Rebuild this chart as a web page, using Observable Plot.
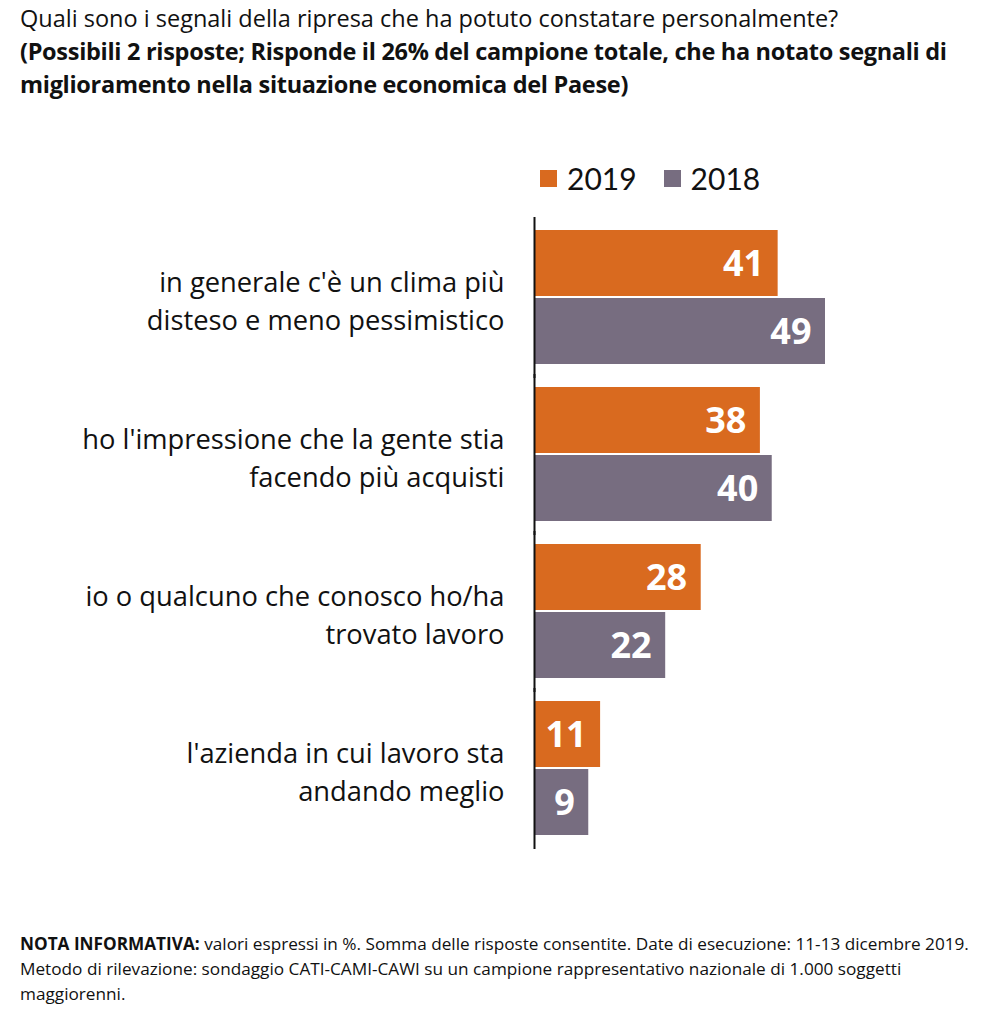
<!DOCTYPE html>
<html>
<head>
<meta charset="utf-8">
<script src="https://cdn.jsdelivr.net/npm/d3@7"></script>
<script src="https://cdn.jsdelivr.net/npm/@observablehq/plot@0.6"></script>
<style>
  html, body { margin: 0; padding: 0; background: #fff; }
  body { width: 1001px; height: 1017px; position: relative; overflow: hidden; font-family: "Open Sans", Lato, sans-serif; color: #111; }
  #title { position: absolute; left: 20px; top: 2px; font-size: 23.5px; line-height: 33px; }
  #title b { font-weight: 700; letter-spacing: -0.3px; }
  #legend { position: absolute; left: 540px; top: 160px; font-size: 30px; display: flex; align-items: center; font-family: Lato, sans-serif; }
  #legend span.sw { display: inline-block; width: 17px; height: 17px; margin-right: 10px; }
  #legend span.lab { margin-right: 27px; }
  #chart { position: absolute; left: 0; top: 200px; }
  #note { position: absolute; left: 20px; top: 931px; font-size: 17.2px; line-height: 25px; }
</style>
</head>
<body>
<div id="title"></div>
<div id="legend"></div>
<div id="chart"></div>
<div id="note"></div>
<script>
const titleLines = [
  "Quali sono i segnali della ripresa che ha potuto constatare personalmente?",
  "(Possibili 2 risposte; Risponde il 26% del campione totale, che ha notato segnali di",
  "miglioramento nella situazione economica del Paese)"
];
const questions = [
  "in generale c'è un clima più\ndisteso e meno pessimistico",
  "ho l'impressione che la gente stia\nfacendo più acquisti",
  "io o qualcuno che conosco ho/ha\ntrovato lavoro",
  "l'azienda in cui lavoro sta\nandando meglio"
];
const years = ["2019", "2018"];
const values2019 = [41, 38, 28, 11];
const values2018 = [49, 40, 22, 9];
const colors = ["#D96A1F", "#776D80"];
const noteBold = "NOTA INFORMATIVA:";
const noteText = " valori espressi in %. Somma delle risposte consentite. Date di esecuzione: 11-13 dicembre 2019.<br>Metodo di rilevazione: sondaggio CATI-CAMI-CAWI su un campione rappresentativo nazionale di 1.000 soggetti<br>maggiorenni.";

document.getElementById("title").innerHTML =
  titleLines[0] + "<br><b>" + titleLines[1] + "<br>" + titleLines[2] + "</b>";
document.getElementById("legend").innerHTML = years.map((y, i) =>
  `<span class="sw" style="background:${colors[i]}"></span><span class="lab">${y}</span>`).join("");
document.getElementById("note").innerHTML = "<b>" + noteBold + "</b>" + noteText;

const rows = [];
questions.forEach((q, i) => {
  rows.push({question: q, year: "2019", value: values2019[i]});
  rows.push({question: q, year: "2018", value: values2018[i]});
});

const chart = Plot.plot({
  width: 1001,
  height: 670,
  marginLeft: 535,
  marginRight: 140.5,
  marginTop: 28,
  marginBottom: 33.5,
  style: {fontFamily: "'Open Sans', Lato, sans-serif", color: "#111", background: "transparent"},
  x: {domain: [0, 55], axis: null},
  y: {domain: years, padding: 0, axis: null},
  fy: {domain: questions, paddingInner: 0.1365, paddingOuter: 0, axis: null, label: null},
  color: {domain: years, range: colors},
  marks: [
    Plot.barX(rows, {x: "value", y: "year", fy: "question", fill: "year", insetTop: 1, insetBottom: 1}),
    Plot.text(rows, {x: "value", y: "year", fy: "question", text: d => String(d.value), textAnchor: "end", dx: -14, dy: 1, fill: "white", fontWeight: "bold", fontSize: 36}),
    Plot.ruleX([0], {stroke: "#111", strokeWidth: 2, dx: -1, insetTop: -12, insetBottom: -13}),
    Plot.axisFy({anchor: "left", tickSize: 0, tickPadding: 31, fontSize: 27.3, lineHeight: 1.39, label: null, textAnchor: "end", fill: "#111", dy: 1})
  ]
});
document.getElementById("chart").appendChild(chart);
</script>
</body>
</html>
